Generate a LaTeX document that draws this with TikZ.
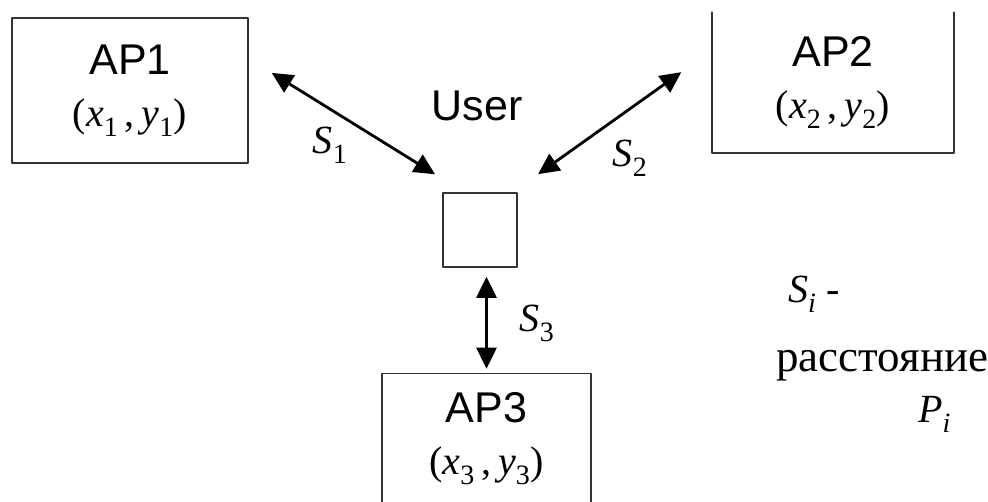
\documentclass[tikz,border=0pt]{standalone}
\usepackage{fontspec}
\setmainfont{Liberation Serif}
\newfontfamily\apfont{Liberation Sans}
\usetikzlibrary{arrows.meta}
\newcommand{\crd}[1]{(\textit{x}\textsubscript{#1}\,,\,\textit{y}\textsubscript{#1})}
\newcommand{\dst}[1]{\textit{S}\textsubscript{#1}}

\begin{document}
\begin{tikzpicture}[line cap=round,line join=round,>={Triangle[length=21pt,width=20pt]},x=1pt,y=-1pt]
      \tikzset{apbox/.style={draw=black!80,line width=1.6pt,inner sep=0pt,align=center,
          font=\apfont\fontsize{43}{52}\selectfont},
        sidebox/.style={draw=black!80,line width=1.6pt},
        link/.style={<->,line width=2.8pt},
        lbl/.style={font=\fontsize{40}{48}\selectfont,inner sep=0pt}}
      \useasboundingbox (0,0) rectangle (988,502);
      % access points
      \node[apbox,minimum width=236pt,minimum height=145pt] (ap1) at (130,90.5)
          {AP1\\{\rmfamily\fontsize{40}{52}\selectfont\crd{1}}};
      \node[apbox,draw=none,minimum width=240pt,minimum height=139pt] (ap2) at (833,82.5)
          {AP2\\{\rmfamily\fontsize{40}{52}\selectfont\crd{2}}};
      \node[apbox,draw=none,minimum width=207pt,minimum height=129pt] (ap3) at (486.5,439)
          {AP3\\{\rmfamily\fontsize{40}{52}\selectfont\crd{3}}};
      \draw[sidebox] (ap2.north west) -- (ap2.south west) -- (ap2.south east) -- (ap2.north east);
      \draw[sidebox] (ap3.south west) -- (ap3.north west) -- (ap3.north east) -- (ap3.south east);
      % user
      \node[draw=black!80,line width=1.6pt,minimum size=74pt,inner sep=0pt] (user) at (480,230) {};
      \node[font=\apfont\fontsize{43}{52}\selectfont,inner sep=0pt] (username) at (477,106) {User};
      % distances
      \draw[link,shorten <=27pt,shorten >=34pt] (ap1.15) -- (user.113);
      \draw[link,shorten <=31pt,shorten >=38pt] (user.49) -- (ap2.165);
      \draw[link,shorten <=9pt,shorten >=5pt] (user.south -| ap3.north) -- (ap3.north);
      \node[lbl] (s1) at (330,145) {\dst{1}};
      \node[lbl] (s2) at (630,158) {\dst{2}};
      \node[lbl] (s3) at (537,323) {\dst{3}};
      % legend
      \node[lbl,anchor=base west] (si) at (788,303) {\dst{\textit{i}} -};
      \node[lbl,font=\fontsize{45}{52}\selectfont,anchor=base west] (dist) at (776,372) {расстояние};
      \node[lbl,anchor=base west] (pi) at (918,423) {\textit{P}\textsubscript{\textit{i}}};
\end{tikzpicture}
\end{document}
